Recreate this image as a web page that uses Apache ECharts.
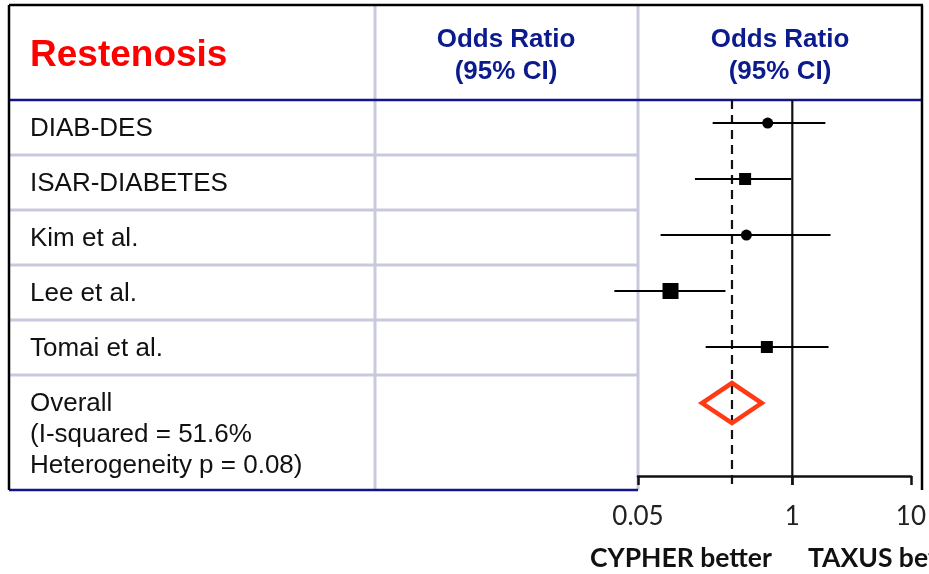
<!DOCTYPE html>
<html><head><meta charset="utf-8">
<script src="https://cdn.jsdelivr.net/npm/echarts@6/dist/echarts.min.js"></script>
<style>html,body{margin:0;padding:0;background:#fff}#c{width:929px;height:574px}</style>
</head><body><div id="c"></div>
<script>
// ---- data ----
const studies = ['DIAB-DES', 'ISAR-DIABETES', 'Kim et al.', 'Lee et al.', 'Tomai et al.'];
const oddsRatio = [0.62, 0.40, 0.41, 0.094, 0.61];
const ciLower = [0.213, 0.151, 0.0775, 0.0316, 0.186];
const ciUpper = [1.90, 0.98, 2.10, 0.273, 2.02];
const overallLabel = ['Overall', '(I-squared = 51.6%', 'Heterogeneity p = 0.08)'];
const overallOR = [0.31];
const overallLower = [0.173];
const overallUpper = [0.552];
const xTicks = [0.05, 1, 10];
const headerTitle = 'Restenosis';
const headerColumn = ['Odds Ratio', '(95% CI)'];
const directionLabels = ['CYPHER better', 'TAXUS better'];

// ---- styles / layout ----
const markerShapes = ['circle', 'square', 'circle', 'square', 'square'];
const markerSizes = [11, 12, 11, 16, 12];
const LAV = '#c9c9dd', NAVY = '#14148a', HEADBLUE = '#0b1a8c';
const L = 9, R = 922, T = 5, HB = 100, RH = 55, B = 490, C1 = 375, C2 = 638;

const chart = echarts.init(document.getElementById('c'));

const graphics = [];
function line(x1, y1, x2, y2, color, w) {
  graphics.push({ type: 'line', z: 0, shape: { x1, y1, x2, y2 }, style: { stroke: color, lineWidth: w } });
}
line(C1, T, C1, B, LAV, 3);
line(C2, T, C2, B, LAV, 3);
for (let i = 1; i <= 5; i++) line(L, HB + RH * i, C2, HB + RH * i, LAV, 3);
line(L, B, C2, B, NAVY, 2.5);
line(L, HB, R, HB, NAVY, 2.5);
line(L, T, R + 1, T, '#000', 2.5);
line(L, T, L, B, '#000', 2.5);
line(R, T, R, B, '#000', 2.5);

function text(x, y, str, font, color, align) {
  graphics.push({
    type: 'text', z: 5, x, y,
    style: { text: str, font, fill: color, textAlign: align || 'left', textVerticalAlign: 'middle' }
  });
}
text(30, 56, headerTitle, 'bold 37px "Liberation Sans", Arial, sans-serif', '#ff0000');
[506, 780].forEach(cx => {
  text(cx, 40, headerColumn[0], 'bold 26px "Liberation Sans", Arial, sans-serif', HEADBLUE, 'center');
  text(cx, 72, headerColumn[1], 'bold 26px "Liberation Sans", Arial, sans-serif', HEADBLUE, 'center');
});
studies.forEach((s, i) => text(30, 129 + RH * i, s, '26px "Liberation Sans", Arial, sans-serif', '#111'));
overallLabel.forEach((s, i) => text(30, 404 + 31 * i, s, '26px "Liberation Sans", Arial, sans-serif', '#111'));
text(590, 558, directionLabels[0], 'bold 26.5px Lato, "DejaVu Sans", sans-serif', '#111');
text(808, 558, directionLabels[1], 'bold 26.5px Lato, "DejaVu Sans", sans-serif', '#111');

const studyData = studies.map((s, i) => [oddsRatio[i], ciLower[i], ciUpper[i], i]);
const overallData = overallOR.map((v, i) => [v, overallLower[i], overallUpper[i], studies.length]);
const refData = [[1, 0], [overallOR[0], 0]];

chart.setOption({
  backgroundColor: '#fff',
  animation: false,
  grid: { left: C2, right: 929 - 916, top: HB, bottom: 574 - 476 },
  xAxis: {
    type: 'log', logBase: 10, min: 0.05, max: 10, position: 'bottom',
    axisLine: { show: true, onZero: false, lineStyle: { color: '#111', width: 2.5 } },
    axisTick: { show: true, length: 9, lineStyle: { color: '#111', width: 2.5 }, customValues: xTicks },
    axisLabel: {
      customValues: xTicks, margin: 28, fontSize: 26, color: '#222', fontFamily: 'Lato, "DejaVu Sans", sans-serif',
      formatter: v => String(Number(Number(v).toPrecision(6)))
    },
    splitLine: { show: false }, minorTick: { show: false }
  },
  yAxis: { type: 'value', inverse: true, min: -0.411, max: 6.303, show: false },
  graphic: graphics,
  series: [
    {
      type: 'custom', name: 'ref', z: 2, data: refData, encode: { x: 0, y: 1 },
      renderItem: (params, api) => {
        const x = api.coord([api.value(0), 0])[0];
        const cs = params.coordSys;
        return {
          type: 'line',
          shape: { x1: x, y1: cs.y, x2: x, y2: cs.y + cs.height + 9 },
          style: { stroke: '#111', lineWidth: 2.2, lineDash: params.dataIndex === 1 ? [9, 6] : null }
        };
      }
    },
    {
      type: 'custom', name: 'studies', z: 3, clip: false, data: studyData, encode: { x: [0, 1, 2], y: 3 },
      renderItem: (params, api) => {
        const i = api.value(3);
        const p = api.coord([api.value(0), i]);
        const lo = api.coord([api.value(1), i]);
        const hi = api.coord([api.value(2), i]);
        const sz = markerSizes[params.dataIndex];
        const shape = markerShapes[params.dataIndex];
        const mark = shape === 'circle'
          ? { type: 'circle', shape: { cx: p[0], cy: p[1], r: sz / 2 }, style: { fill: '#000' } }
          : { type: 'rect', shape: { x: p[0] - sz / 2, y: p[1] - sz / 2, width: sz, height: sz }, style: { fill: '#000' } };
        return {
          type: 'group', children: [
            { type: 'line', shape: { x1: lo[0], y1: lo[1], x2: hi[0], y2: hi[1] }, style: { stroke: '#000', lineWidth: 2 } },
            mark
          ]
        };
      }
    },
    {
      type: 'custom', name: 'overall', z: 4, data: overallData, encode: { x: [0, 1, 2], y: 3 },
      renderItem: (params, api) => {
        const i = api.value(3);
        const p = api.coord([api.value(0), i]);
        const lo = api.coord([api.value(1), i]);
        const hi = api.coord([api.value(2), i]);
        const h = 20;
        return {
          type: 'polygon',
          shape: { points: [[lo[0], p[1]], [p[0], p[1] - h], [hi[0], p[1]], [p[0], p[1] + h]] },
          style: { fill: 'none', stroke: '#ff3a14', lineWidth: 4.5, lineJoin: 'miter' }
        };
      }
    }
  ]
});
</script>
</body></html>
